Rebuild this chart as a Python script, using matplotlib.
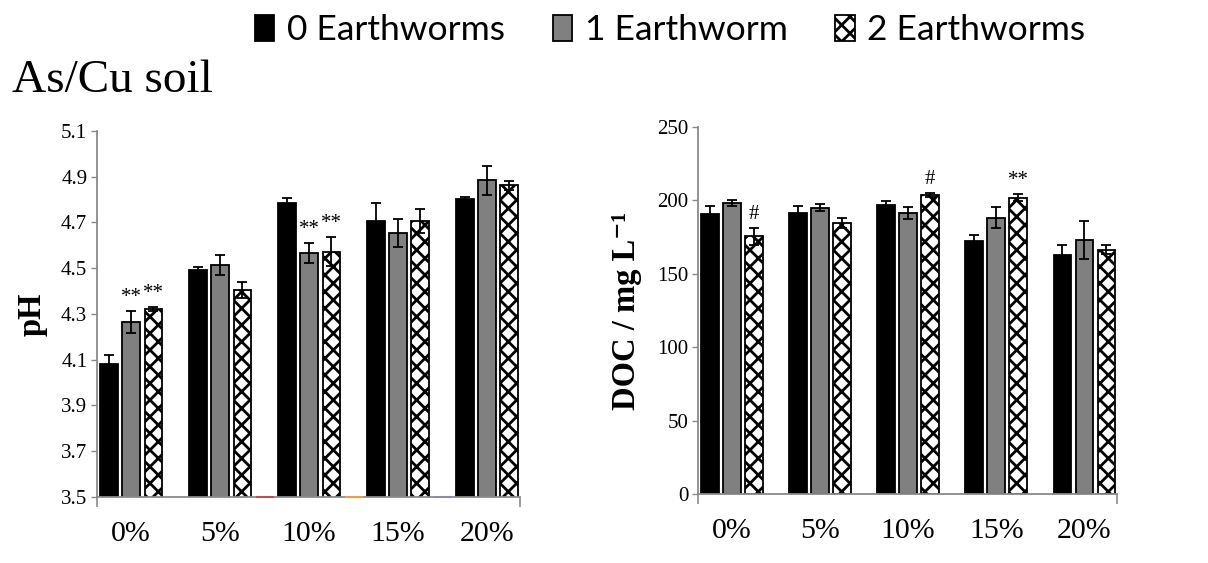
import numpy as np
import matplotlib
matplotlib.use("Agg")
import matplotlib.pyplot as plt

# ---- data -------------------------------------------------------------
categories = ["0%", "5%", "10%", "15%", "20%"]
series_names = ["0 Earthworms", "1 Earthworm", "2 Earthworms"]

ph_0 = [4.083, 4.493, 4.787, 4.707, 4.803]
ph_0_err = [0.036, 0.013, 0.022, 0.080, 0.007]
ph_1 = [4.266, 4.515, 4.566, 4.655, 4.884]
ph_1_err = [0.047, 0.045, 0.045, 0.062, 0.065]
ph_2 = [4.322, 4.405, 4.573, 4.707, 4.862]
ph_2_err = [0.009, 0.034, 0.062, 0.051, 0.018]
ph_sig_1 = ["**", "", "**", "", ""]
ph_sig_2 = ["**", "", "**", "", ""]

doc_0 = [190.6, 191.5, 197.1, 172.2, 163.1]
doc_0_err = [5.5, 4.5, 2.3, 4.5, 6.3]
doc_1 = [198.3, 194.9, 191.5, 188.3, 173.3]
doc_1_err = [2.0, 2.4, 4.0, 7.0, 13.0]
doc_2 = [175.6, 184.7, 203.9, 201.9, 166.5]
doc_2_err = [5.7, 3.2, 1.3, 2.4, 3.0]
doc_sig_1 = ["", "", "", "", ""]
doc_sig_2 = ["#", "", "#", "**", ""]

# empty fourth series of the pH chart (shows only as a coloured baseline stub)
ph_extra_colors = [None, "#c0504d", "#f79646", "#8c8ca8", None]

ph_ticks = [3.5, 3.7, 3.9, 4.1, 4.3, 4.5, 4.7, 4.9, 5.1]
doc_ticks = [0, 50, 100, 150, 200, 250]

# ---- style ------------------------------------------------------------
SERIF = "Liberation Serif"
AXIS_GREY = "#8a8a8a"
plt.rcParams["hatch.linewidth"] = 2.0

W, H = 1208, 563
fig = plt.figure(figsize=(W / 100, H / 100), dpi=100)


def px_axes(x0, x1, ytop, ybot):
    return fig.add_axes([x0 / W, 1 - ybot / H, (x1 - x0) / W, (ybot - ytop) / H])


ax_ph = px_axes(97, 520, 131, 497)
ax_doc = px_axes(698, 1117, 127, 494)

x = np.arange(len(categories))
step = 0.25
width = 0.2
styles = [
    dict(color="black", edgecolor="black"),
    dict(color="#808080", edgecolor="black"),
    dict(color="white", edgecolor="black", hatch="xx"),
]


def draw(ax, vals, errs, sigs, ylim, ticks, fmt, ylabel, label_x):
    handles = []
    for k, (v, e, st) in enumerate(zip(vals, errs, styles)):
        xs = x + (k - 1) * step
        b = ax.bar(xs, v, width=width, linewidth=1.3, label=series_names[k],
                   zorder=2, **st)
        handles.append(b)
        ax.errorbar(xs, v, yerr=e, fmt="none", ecolor="black", elinewidth=1.3,
                    capsize=3.6, capthick=1.3, zorder=3)
        if sigs[k] is not None:
            for xi, vi, ei, s in zip(xs, v, e, sigs[k]):
                if s:
                    ax.annotate(s, xy=(xi, vi + ei), xytext=(0, 3),
                                textcoords="offset points", ha="center",
                                va="bottom", fontsize=15, family=SERIF)
    ax.set_ylim(*ylim)
    ax.set_xlim(-0.385, 4.37)
    ax.set_yticks(ticks)
    ax.set_yticklabels([fmt.format(t) for t in ticks], family=SERIF, fontsize=15)
    ax.set_xticks(x)
    ax.set_xticklabels(categories, family=SERIF, fontsize=21.5)
    ax.tick_params(axis="x", length=0, pad=17)
    ax.tick_params(axis="y", length=4, width=1.0, color=AXIS_GREY, pad=3,
                   direction="out")
    ax.set_xticks([-0.385, 4.37], minor=True)
    ax.tick_params(axis="x", which="minor", length=7, width=1.2,
                   color=AXIS_GREY, direction="out")
    for side in ("top", "right"):
        ax.spines[side].set_visible(False)
    for side in ("left", "bottom"):
        ax.spines[side].set_color(AXIS_GREY)
        ax.spines[side].set_linewidth(1.3)
    ax.set_ylabel(ylabel, family=[SERIF, "DejaVu Serif"], fontweight="bold",
                  fontsize=23.5)
    ax.yaxis.label.set_verticalalignment("center")
    ax.yaxis.set_label_coords(label_x, 0.5)
    return handles


handles = draw(ax_ph, [ph_0, ph_1, ph_2], [ph_0_err, ph_1_err, ph_2_err],
               [None, ph_sig_1, ph_sig_2], (3.5, 5.1), ph_ticks, "{:.1f}",
               "pH", -0.153)
draw(ax_doc, [doc_0, doc_1, doc_2], [doc_0_err, doc_1_err, doc_2_err],
     [None, doc_sig_1, doc_sig_2], (0, 250), doc_ticks, "{:d}",
     "DOC / mg L\u207b\u00b9", -0.17)

# zero-height fourth-series stubs on the pH baseline
for xi, c in zip(x, ph_extra_colors):
    if c:
        ax_ph.bar(xi + 2 * step, 0.0, width=width, bottom=3.5, color="none",
                  edgecolor=c, linewidth=1.5, clip_on=False, zorder=4)

fig.text(12 / W, 1 - 92 / H, "As/Cu soil", family=SERIF, fontsize=34,
         va="baseline", ha="left")

fig.legend(handles=handles, labels=series_names, loc="center left",
           bbox_to_anchor=(255 / W, 1 - 30 / H), ncol=3, frameon=False,
           prop=dict(family="Lato", size=25.5), handlelength=0.55,
           handleheight=0.75, handletextpad=0.35, columnspacing=1.35,
           borderpad=0, borderaxespad=0)

fig.savefig("out.png", dpi=100)
